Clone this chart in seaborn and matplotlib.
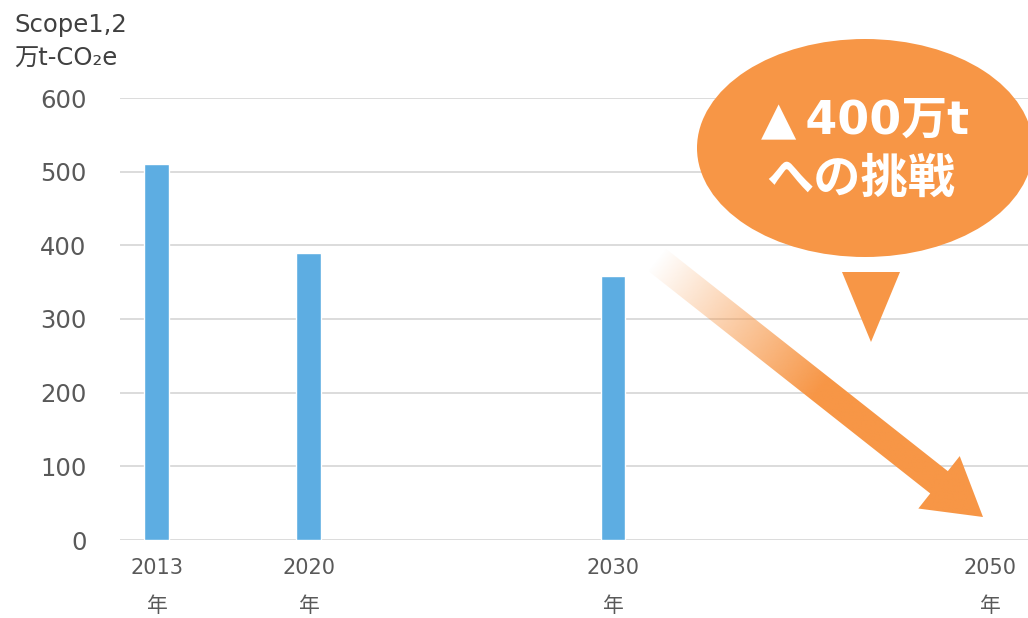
import numpy as np
import pandas as pd
import matplotlib
matplotlib.use('Agg')
import matplotlib.pyplot as plt
import seaborn as sns
from matplotlib.patches import Ellipse, Polygon


# data (Scope1,2 emissions, 万t-CO2e)
years = ['2013', '2020', '2030', '2050']
emissions = [511, 389, 358]
# slot layout of the category axis (2050 sits at the far right)
slots = [0, 1, 3, 5.48]

sns.set_theme(style='white')
plt.rcParams['font.family'] = ['DejaVu Sans', 'Noto Sans CJK JP']

bar_color = '#5DADE2'
orange = '#F79646'
grey_txt = '#595959'

df = pd.DataFrame({'slot': slots[:3], 'value': emissions})

fig = plt.figure(figsize=(10.28, 6.18), dpi=100)
ax = fig.add_axes([120 / 1028, 78 / 618, 908 / 1028, 442 / 618])

sns.barplot(data=df, x='slot', y='value', native_scale=True, width=0.164,
            color=bar_color, saturation=1, ax=ax, zorder=3)

ax.set_xlim(-0.243, 5.73)
ax.set_ylim(0, 600)
ax.set_yticks(range(0, 601, 100))
ax.yaxis.grid(True, color='#D9D9D9', linewidth=1.3, zorder=0)
ax.set_axisbelow(True)
for s in ax.spines.values():
    s.set_visible(False)
ax.set_xticks(slots)
ax.set_xticklabels([y + '\n年' for y in years], fontsize=15, color=grey_txt,
                   linespacing=2.1)
ax.tick_params(axis='x', length=0, pad=13)
ax.tick_params(axis='y', length=0, pad=24, labelsize=17.5, labelcolor=grey_txt)
ax.set_xlabel('')
ax.set_ylabel('')

fig.text(14 / 1028, 1 - 13 / 618, 'Scope1,2\n万t-CO₂e', fontsize=17.5, color='#404040',
         va='top', ha='left', linespacing=1.5)

# overlay in pixel coordinates for the callout and the arrow
ov = fig.add_axes([0, 0, 1, 1], zorder=5)
ov.set_xlim(0, 1028)
ov.set_ylim(618, 0)
ov.axis('off')
ov.patch.set_alpha(0)

ov.add_patch(Ellipse((865, 148), 336, 218, color=orange, lw=0))
ov.add_patch(Polygon([(842, 272), (900, 272), (871, 342)], closed=True,
                     color=orange, lw=0))
ov.text(865, 121, '▲\u2009400万t', color='white', fontsize=33, fontweight='bold',
        ha='center', va='center')
ov.text(861, 180, 'への挑戦', color='white', fontsize=34, fontweight='bold',
        ha='center', va='center')

# gradient arrow
start = np.array([656.0, 259.0])
tip = np.array([983.0, 517.0])
u = (tip - start) / np.linalg.norm(tip - start)
n = np.array([-u[1], u[0]])
L = np.linalg.norm(tip - start)
hw, hhw, hl = 14.2, 33.4, 56.0
base = tip - u * hl
pts = [start + n * hw, base + n * hw, base + n * hhw, tip,
       base - n * hhw, base - n * hw, start - n * hw]
arrow = Polygon(pts, closed=True, facecolor='none', edgecolor='none',
                transform=ov.transData)
ov.add_patch(arrow)

x0, x1, y0, y1 = 630, 995, 235, 530
X, Y = np.meshgrid(np.linspace(x0, x1, 400), np.linspace(y0, y1, 400))
t = ((X - start[0]) * u[0] + (Y - start[1]) * u[1]) / L
alpha = np.clip(t / 0.5, 0, 1)
rgb = matplotlib.colors.to_rgb(orange)
img = np.zeros(X.shape + (4,))
img[..., 0], img[..., 1], img[..., 2] = rgb
img[..., 3] = alpha
im = ov.imshow(img, extent=(x0, x1, y1, y0), origin='upper', aspect='auto',
               interpolation='bilinear')
im.set_clip_path(arrow)
ov.set_xlim(0, 1028)
ov.set_ylim(618, 0)

plt.savefig('out.png', dpi=100)
